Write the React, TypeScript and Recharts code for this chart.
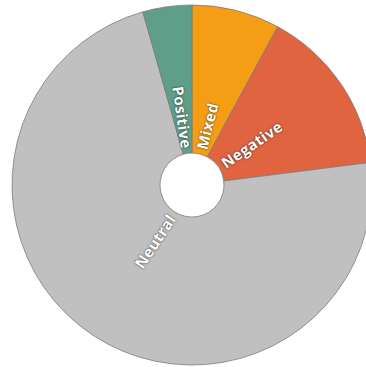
import { Cell, Pie, PieChart } from 'recharts';

// clockwise from 12 o'clock
const categories = ['Mixed', 'Negative', 'Neutral', 'Positive'];
const shares = [7.9, 15.1, 72.6, 4.4];
const colors = ['#f59d14', '#e0643f', '#c0c0c0', '#5f9e89'];

const data = categories.map((name, i) => ({ name, value: shares[i] }));

const RADIAN = Math.PI / 180;

function renderLabel(props: any) {
  const { cx, cy, midAngle, innerRadius, name } = props;
  // convert recharts angle (ccw from 3 o'clock) to clockwise-from-top
  const theta = (((90 - midAngle) % 360) + 360) % 360;
  const r = innerRadius + 5;
  const x = cx + r * Math.sin(theta * RADIAN);
  const y = cy - r * Math.cos(theta * RADIAN);
  const rightSide = theta < 180;
  const rot = rightSide ? theta - 90 : theta + 90;
  return (
    <text
      x={x}
      y={y}
      fill="#ffffff"
      fontSize={15}
      fontWeight={700}
      letterSpacing={0.4}
      fontFamily="'Open Sans', sans-serif"
      textAnchor={rightSide ? 'start' : 'end'}
      dominantBaseline="central"
      transform={`rotate(${rot}, ${x}, ${y})`}
      style={{ textShadow: '0 0 2px rgba(0,0,0,0.85)' }}
    >
      {name}
    </text>
  );
}

export default function App() {
  return (
    <div style={{ position: 'absolute', left: 0, top: 0, width: 366, height: 367, background: '#fff' }}>
      <PieChart width={366} height={367} margin={{ top: 0, right: 0, bottom: 0, left: 0 }}>
        <Pie
          data={data}
          dataKey="value"
          nameKey="name"
          cx={192}
          cy={185}
          innerRadius={32}
          outerRadius={180}
          startAngle={90}
          endAngle={-270}
          stroke="#7c7c7c"
          strokeWidth={0.8}
          label={renderLabel}
          labelLine={false}
          isAnimationActive={false}
        >
          {data.map((entry, idx) => (
            <Cell key={entry.name} fill={colors[idx]} />
          ))}
        </Pie>
      </PieChart>
    </div>
  );
}
